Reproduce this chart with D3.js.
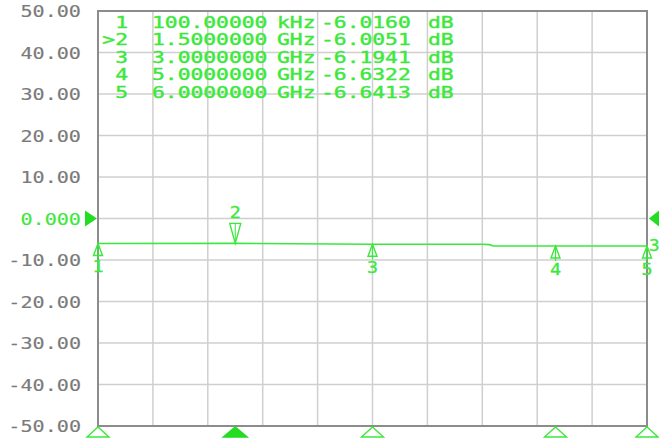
<!DOCTYPE html>
<html><head><meta charset="utf-8">
<script src="https://cdn.jsdelivr.net/npm/d3@7"></script>
<style>
html,body{margin:0;padding:0;background:#fff;}
svg{display:block;}
text{font-family:"DejaVu Sans Mono",monospace;}
</style></head>
<body>
<svg id="chart" width="659" height="441"></svg>
<script>
// ---- data ----
const yTicks = [50, 40, 30, 20, 10, 0, -10, -20, -30, -40, -50];
const yTickLabels = ["50.00","40.00","30.00","20.00","10.00","0.000","-10.00","-20.00","-30.00","-40.00","-50.00"];
const xStartGHz = 0;
const xStopGHz = 6;
const xDivisions = 10;
const traceFreqGHz = [0.0001, 1.5, 3.0, 4.2, 4.28, 4.32, 5.0, 6.0];
const traceDb = [-6.016, -6.005, -6.194, -6.22, -6.3, -6.62, -6.632, -6.641];
const markerIds = ["1", ">2", "3", "4", "5"];
const markerNums = ["1", "2", "3", "4", "5"];
const markerFreqGHz = [0.0001, 1.5, 3.0, 5.0, 6.0];
const markerFreqLabels = ["100.00000", "1.5000000", "3.0000000", "5.0000000", "6.0000000"];
const markerUnits = ["kHz", "GHz", "GHz", "GHz", "GHz"];
const markerDb = [-6.0160, -6.0051, -6.1941, -6.6322, -6.6413];
const activeMarker = 1;
const refLevel = 0;
const traceNumber = "3";

// ---- drawing ----
const svg = d3.select("#chart");
const L = 98, R = 647, T = 11, B = 426;
const x = d3.scaleLinear().domain([xStartGHz, xStopGHz]).range([L, R]);
const y = d3.scaleLinear().domain([-50, 50]).range([B, T]);
const green = "#3de83d";
const grid = "#cfcfcf";
const gray = "#7a7a7a";

function wideText(parent, tx, ty, str, opts) {
  const g = parent.append("g").attr("transform", `translate(${tx},${ty}) scale(${opts.sx},1)`);
  return g.append("text").attr("x", 0).attr("y", 0)
    .attr("text-anchor", opts.anchor || "start")
    .attr("font-size", opts.size)
    .attr("fill", opts.fill)
    .attr("stroke", opts.fill).attr("stroke-width", opts.sw == null ? 0.35 : opts.sw)
    .text(str);
}

// grid
const xGrid = d3.range(xDivisions + 1).map(i => xStartGHz + i * (xStopGHz - xStartGHz) / xDivisions);
svg.append("g").selectAll("line").data(xGrid).join("line")
  .attr("x1", d => x(d)).attr("x2", d => x(d)).attr("y1", T).attr("y2", B)
  .attr("stroke", grid).attr("stroke-width", 1.5);
svg.append("g").selectAll("line").data(yTicks).join("line")
  .attr("x1", L).attr("x2", R).attr("y1", d => y(d)).attr("y2", d => y(d))
  .attr("stroke", grid).attr("stroke-width", 1.5);
// border
svg.append("rect").attr("x", L).attr("y", T).attr("width", R - L).attr("height", B - T)
  .attr("fill", "none").attr("stroke", "#8c8c8c").attr("stroke-width", 2);

// y labels
const yl = svg.append("g");
yTicks.forEach((d, i) => {
  wideText(yl, 81, y(d) + 6, yTickLabels[i],
    {sx: 1.22, size: 16.5, anchor: "end", sw: 0.15, fill: d === refLevel ? green : gray});
});

// reference arrows
svg.append("path")
  .attr("d", `M${L - 13},${y(refLevel) - 8} L${L - 1},${y(refLevel)} L${L - 13},${y(refLevel) + 8} Z`)
  .attr("fill", "#22dd22");
svg.append("path")
  .attr("d", `M${659},${y(refLevel) - 8} L${R + 2},${y(refLevel)} L${659},${y(refLevel) + 8} Z`)
  .attr("fill", "#22dd22");

// trace
const line = d3.line().x(d => x(d[0])).y(d => y(d[1]));
svg.append("path").datum(traceFreqGHz.map((f, i) => [f, traceDb[i]]))
  .attr("d", line).attr("fill", "none").attr("stroke", green).attr("stroke-width", 1.6);

// trace number at right
wideText(svg, 649, 251, traceNumber, {sx: 1.1, size: 16, fill: green});

// markers on trace
markerFreqGHz.forEach((f, i) => {
  const mx = x(f), my = y(markerDb[i]);
  const g = svg.append("g");
  if (i === activeMarker) {
    g.append("path").attr("d", `M${mx - 5.5},${my - 20} L${mx + 5.5},${my - 20} L${mx},${my} Z`)
      .attr("fill", "none").attr("stroke", green).attr("stroke-width", 1.4);
    g.append("line").attr("x1", mx).attr("x2", mx).attr("y1", my - 20).attr("y2", my)
      .attr("stroke", green).attr("stroke-width", 1);
    wideText(g, mx, my - 25, markerNums[i], {sx: 1.15, size: 16, anchor: "middle", fill: green});
  } else {
    g.append("path").attr("d", `M${mx - 4.5},${my + 12} L${mx + 4.5},${my + 12} L${mx},${my} Z`)
      .attr("fill", "none").attr("stroke", green).attr("stroke-width", 1.4);
    g.append("line").attr("x1", mx).attr("x2", mx).attr("y1", my).attr("y2", my + 15)
      .attr("stroke", green).attr("stroke-width", 1.2);
    wideText(g, mx, my + 29, markerNums[i], {sx: 1.15, size: 16, anchor: "middle", fill: green});
  }
  // bottom edge marker
  const bw = i === activeMarker ? 12 : 11;
  svg.append("path").attr("d", `M${mx - bw},${437} L${mx + bw},${437} L${mx},${427} Z`)
    .attr("fill", i === activeMarker ? "#22dd22" : "none")
    .attr("stroke", i === activeMarker ? "#22dd22" : green).attr("stroke-width", 1.4);
});

// marker table
const rowY = i => 27.5 + i * 17.6;
const tbl = svg.append("g");
const tOpts = {sx: 1.42, size: 15, fill: green, sw: 0.4};
markerIds.forEach((id, i) => {
  wideText(tbl, 128, rowY(i), id, Object.assign({anchor: "end"}, tOpts));
  wideText(tbl, 152, rowY(i), markerFreqLabels[i], tOpts);
  wideText(tbl, 277, rowY(i), markerUnits[i], tOpts);
  wideText(tbl, 321, rowY(i), markerDb[i].toFixed(4), tOpts);
  wideText(tbl, 428, rowY(i), "dB", tOpts);
});
</script>
</body></html>
